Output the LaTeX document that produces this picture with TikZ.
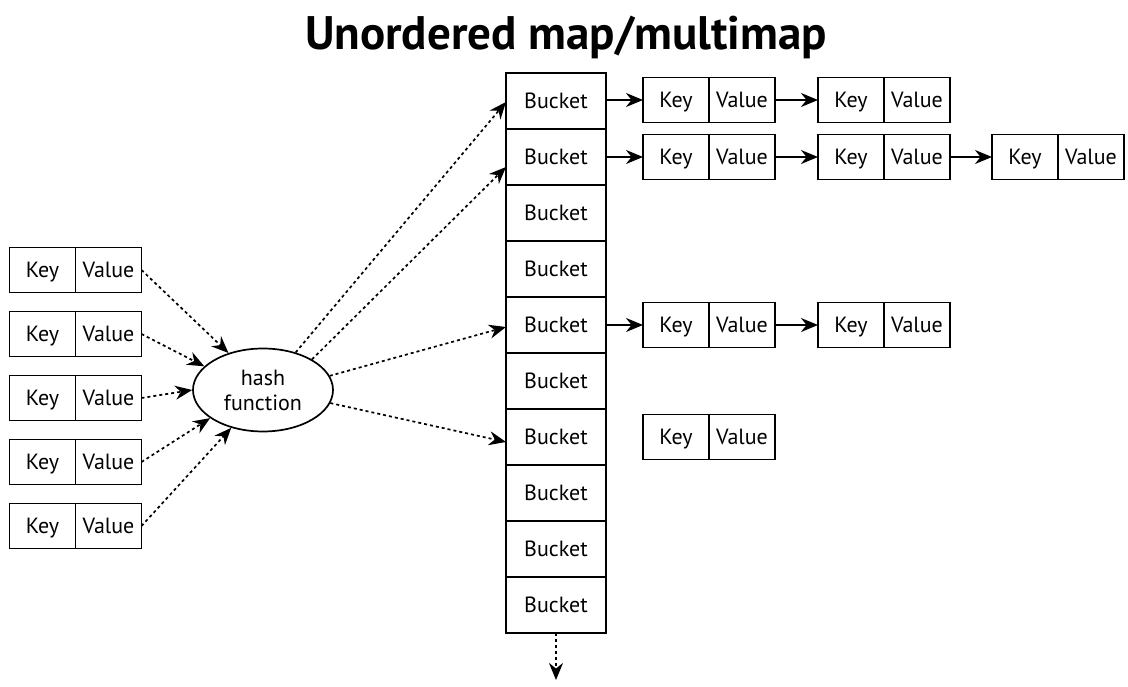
\documentclass[tikz,border=0pt]{standalone}
\usepackage{fontspec}
\setmainfont{PT Sans}
\usetikzlibrary{arrows.meta,shapes.geometric,calc}
\begin{document}
\begin{tikzpicture}[x=1pt,y=-1pt,
  box/.style={draw,line width=1.7pt,minimum height=45pt,inner sep=0pt,outer sep=0pt,text height=18pt,text depth=3pt,font=\fontsize{22}{24}\selectfont},
  keybox/.style={box,minimum width=66pt},
  valbox/.style={box,minimum width=66pt},
  bucket/.style={box,minimum width=100pt,minimum height=56pt},
  hashnode/.style={draw,ellipse,line width=1.7pt,minimum width=140pt,minimum height=83pt,inner sep=0pt,align=center,font=\fontsize{22}{25}\selectfont},
  link/.style={line width=1.7pt,-{Stealth[length=17pt,width=14pt]}},
  dlink/.style={line width=1.7pt,dash pattern=on 3pt off 3pt,-{Stealth[length=17pt,width=14pt]}},
  titlestyle/.style={font=\fontsize{47}{52}\selectfont\bfseries}
]
\useasboundingbox (0,0) rectangle (1128,687);
\newcommand\kvpair[3]{%
  \node[keybox] (#1k) at (#2,#3) {Key};
  \node[valbox,anchor=west] (#1v) at (#1k.east) {Value};}

\node[titlestyle] (title) at (566,37) {Unordered map/multimap};

% buckets
\foreach \i in {1,...,10}
  \node[bucket] (b\i) at (556,{101+56*(\i-1)}) {Bucket};
\coordinate (more) at (556,680);
\draw[dlink] (b10.south) -- (more);

% input pairs
\kvpair{La}{42.5}{270}
\kvpair{Lb}{42.5}{334}
\kvpair{Lc}{42.5}{398}
\kvpair{Ld}{42.5}{462}
\kvpair{Le}{42.5}{526}

\node[hashnode] (h) at (263,390) {hash\\function};

\draw[dlink] (Lav.east) -- (h.133);
\draw[dlink] (Lbv.east) -- (h.158);
\draw[dlink] (Lcv.east) -- (h.180);
\draw[dlink] (Ldv.east) -- (h.208);
\draw[dlink] (Lev.east) -- (h.230);

\draw[dlink] (h.49) -- ($(b1.west)+(0,1)$);
\draw[dlink] (h.32) -- ($(b2.west)+(0,10)$);
\draw[dlink] (h.12) -- ($(b5.west)+(0,2)$);
\draw[dlink] (h.-11) -- ($(b7.west)+(0,5)$);

% chains
\kvpair{Aa}{676}{100}
\kvpair{Ab}{851}{100}
\kvpair{Ba}{676}{157}
\kvpair{Bb}{851}{157}
\kvpair{Bc}{1025}{157}
\kvpair{Ea}{676}{325}
\kvpair{Eb}{851}{325}
\kvpair{Ga}{676}{437}

\draw[link] (b1.east |- Aak.west) -- (Aak.west);
\draw[link] (Aav.east) -- (Abk.west);
\draw[link] (b2.east |- Bak.west) -- (Bak.west);
\draw[link] (Bav.east) -- (Bbk.west);
\draw[link] (Bbv.east) -- (Bck.west);
\draw[link] (b5.east) -- (Eak.west);
\draw[link] (Eav.east) -- (Ebk.west);
\end{tikzpicture}
\end{document}
